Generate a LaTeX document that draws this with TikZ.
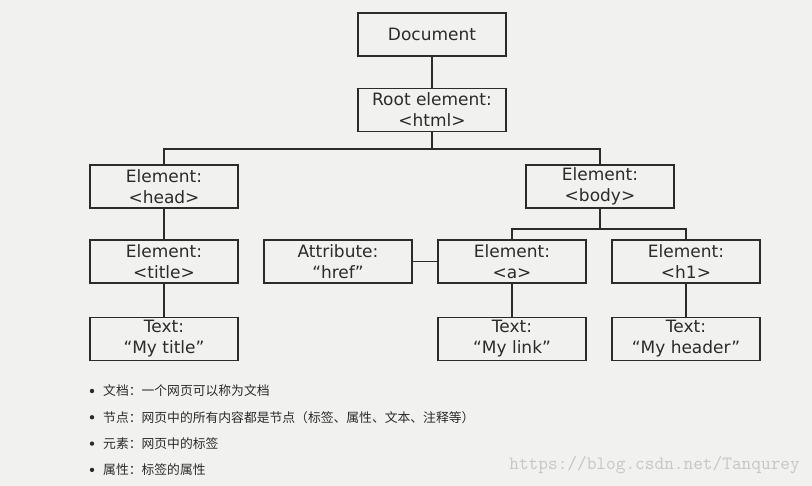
\documentclass[tikz,border=0pt]{standalone}
\usepackage{fontspec}
\setmainfont{DejaVu Sans}
\newfontfamily\cjk{Noto Sans CJK SC}
\usepackage{tikz}
\usetikzlibrary{positioning}
\definecolor{bg}{HTML}{F1F1EF}
\definecolor{ink}{HTML}{2B2B2B}
\definecolor{wmark}{HTML}{C6C6C2}

\begin{document}
\begin{tikzpicture}[x=1pt, y=-1pt,
  box/.style={draw=ink, line width=1.6pt, align=center, minimum width=148pt, minimum height=43pt,
    inner sep=2pt, text=ink, font=\fontsize{17}{21}\selectfont},
  link/.style={draw=ink, line width=1.6pt},
  item/.style={anchor=west, inner sep=0pt, text=ink, font=\cjk\fontsize{12.8}{15}\selectfont}]
\fill[bg] (0,0) rectangle (812,486);
\useasboundingbox (0,0) rectangle (812,486);
% tree, top to bottom
\node[box] (doc)   at (432,34.5)  {Document};
\node[box] (root)  at (432,110)   {Root element:\\<html>};
\node[box] (head)  at (164,186.5) {Element:\\<head>};
\node[box] (body)  at (600,186.5) {Element:\\<body>};
\node[box] (title) at (164,261.5) {Element:\\<title>};
\node[box] (attr)  at (338,261.5) {Attribute:\\“href”};
\node[box] (a)     at (512,261.5) {Element:\\<a>};
\node[box] (h1)    at (686,261.5) {Element:\\<h1>};
\node[box] (ttitle) at (164,339)  {Text:\\“My title”};
\node[box] (tlink)  at (512,339)  {Text:\\“My link”};
\node[box] (thead)  at (686,339)  {Text:\\“My header”};
% connectors
\draw[link] (doc) -- (root);
\draw[link] (root.south) -- ++(0,17) -| (head.north);
\draw[link] (root.south) -- ++(0,17) -| (body.north);
\draw[link] (head) -- (title);
\draw[link] (title) -- (ttitle);
\draw[link] (body.south) -- ++(0,20) -| (a.north);
\draw[link] (body.south) -- ++(0,20) -| (h1.north);
\draw[link] (attr) -- (a);
\draw[link] (a) -- (tlink);
\draw[link] (h1) -- (thead);
% notes
\foreach \t [count=\i] in {文档：一个网页可以称为文档,
    节点：网页中的所有内容都是节点（标签、属性、文本、注释等）,
    元素：网页中的标签,
    属性：标签的属性} {
  \node[item] (item\i) at (103,{391+(\i-1)*26.3}) {\t};
  \fill[ink] ([xshift=-11pt]item\i.west) circle (2.2pt);
}
\node[anchor=east, inner sep=0pt, text=wmark, font=\ttfamily\fontsize{18.8}{20}\selectfont] (url) at (800,465) {https://blog.csdn.net/Tanqurey};
\end{tikzpicture}
\end{document}
